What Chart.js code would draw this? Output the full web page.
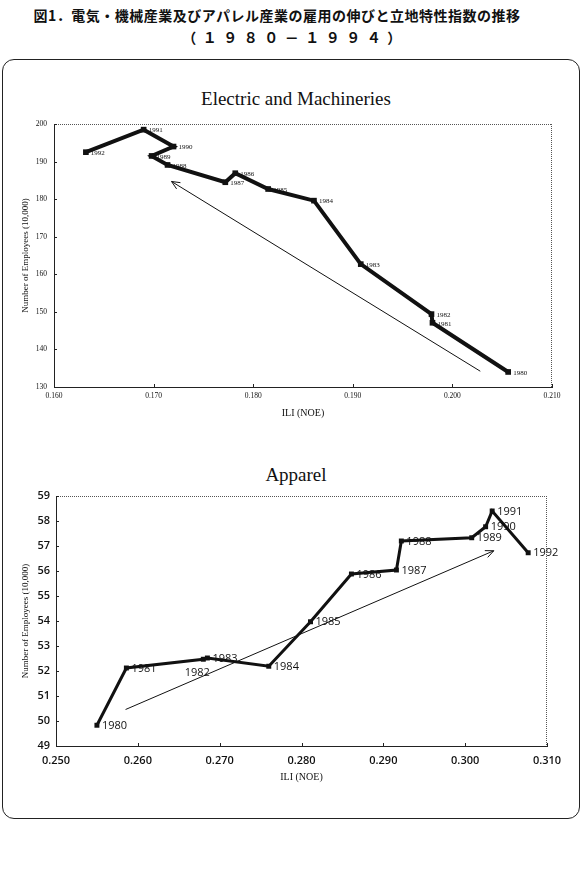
<!DOCTYPE html>
<html><head><meta charset="utf-8">
<script src="https://cdn.jsdelivr.net/npm/chart.js@4.4.1/dist/chart.umd.min.js"></script>
<style>
body{margin:0;width:585px;height:875px;background:#fff;position:relative;overflow:hidden}
.t{position:absolute;left:0;text-align:center;font-family:"Noto Sans CJK JP";font-weight:700;color:#111;font-size:14px;white-space:nowrap}
#frame{position:absolute;left:2px;top:59px;width:578px;height:760px;border:1.5px solid #222;border-radius:12px;box-sizing:border-box}
canvas{position:absolute;left:0}
.ct{position:absolute;left:0;width:592px;text-align:center;font-family:"Liberation Serif";color:#111;font-size:19px;line-height:22px}
</style></head>
<body>
<div class="t" style="top:5px;width:554px;letter-spacing:0.5px">図1．電気・機械産業及びアパレル産業の雇用の伸びと立地特性指数の推移</div>
<div class="t" style="top:27px;width:590px;letter-spacing:6.5px;">（１９８０－１９９４）</div>
<div id="frame"></div>
<div class="ct" style="top:88px">Electric and Machineries</div>
<div class="ct" style="top:464px">Apparel</div>
<canvas id="c1" width="585" height="360" style="top:60px;width:585px;height:360px"></canvas>
<canvas id="c2" width="585" height="380" style="top:420px;width:585px;height:380px"></canvas>
<script>
// ---- Data: Electric and Machineries ----
const years = [1980,1981,1982,1983,1984,1985,1986,1987,1988,1989,1990,1991,1992];
const elecILI = [0.2056,0.1980,0.1979,0.1908,0.1861,0.1815,0.1782,0.1772,0.1714,0.1698,0.1720,0.1690,0.1632];
const elecEmp = [134.0,147.1,149.4,162.7,179.6,182.7,186.9,184.5,189.1,191.5,194.0,198.5,192.5];
const elecArrowX = [0.2028,0.1718];
const elecArrowY = [134.2,184.7];
const elecXTicks = [0.160,0.170,0.180,0.190,0.200,0.210];
const elecYTicks = [130,140,150,160,170,180,190,200];

// ---- Data: Apparel ----
const appILI = [0.2550,0.2586,0.2680,0.2685,0.2760,0.2811,0.2861,0.2916,0.2922,0.3008,0.3025,0.3033,0.3077];
const appEmp = [49.83,52.12,52.47,52.52,52.19,53.97,55.88,56.04,57.20,57.33,57.77,58.40,56.73];
const appArrowX = [0.2585,0.3035];
const appArrowY = [50.46,56.81];
const appXTicks = [0.250,0.260,0.270,0.280,0.290,0.300,0.310];
const appYTicks = [49,50,51,52,53,54,55,56,57,58,59];

const xTitle = 'ILI (NOE)';
const yTitle = 'Number of Employees (10,000)';

const pts = (xs, ys) => xs.map((x,i)=>({x:x,y:ys[i]}));

const labelPlugin = {
  id:'yearLabels',
  afterDatasetsDraw(chart){
    const ctx = chart.ctx;
    chart.data.datasets.forEach((ds,i)=>{
      if(!ds.yearLabels) return;
      const meta = chart.getDatasetMeta(i);
      ctx.save();
      ctx.font = ds.labelFont; ctx.fillStyle = '#111'; ctx.textBaseline = 'middle';
      meta.data.forEach((pt,j)=>{
        const y = ds.yearLabels[j];
        if(ds.belowLeft && ds.belowLeft.indexOf(y) >= 0){
          ctx.textAlign='center'; ctx.fillText(String(y), pt.x-6, pt.y+14);
        } else {
          ctx.textAlign='left'; ctx.fillText(String(y), pt.x+ds.labelDx, pt.y+ds.labelDy);
        }
      });
      ctx.restore();
    });
  }
};

const arrowPlugin = {
  id:'arrowHead',
  afterDatasetsDraw(chart){
    const ctx = chart.ctx;
    chart.data.datasets.forEach((ds,i)=>{
      if(!ds.isArrow) return;
      const d = chart.getDatasetMeta(i).data;
      const a = d[d.length-2], b = d[d.length-1];
      const ang = Math.atan2(b.y-a.y, b.x-a.x);
      const L = 9, w = 0.42;
      ctx.save(); ctx.strokeStyle='#111'; ctx.lineWidth=1;
      ctx.beginPath();
      ctx.moveTo(b.x - L*Math.cos(ang-w), b.y - L*Math.sin(ang-w));
      ctx.lineTo(b.x, b.y);
      ctx.lineTo(b.x - L*Math.cos(ang+w), b.y - L*Math.sin(ang+w));
      ctx.stroke(); ctx.restore();
    });
  }
};

const framePlugin = {
  id:'dottedFrame',
  beforeDatasetsDraw(chart){
    const {left,right,top,bottom} = chart.chartArea;
    const ctx = chart.ctx;
    ctx.save();
    ctx.strokeStyle='#555'; ctx.lineWidth=1; ctx.setLineDash([1,1]);
    ctx.beginPath();
    ctx.moveTo(left, top+0.5); ctx.lineTo(right, top+0.5);
    ctx.moveTo(right-0.5, top); ctx.lineTo(right-0.5, bottom);
    ctx.stroke();
    ctx.setLineDash([]);
    ctx.strokeStyle='#222';
    const xs = chart.scales.x;
    ctx.beginPath();
    xs.ticks.forEach(t=>{ const px = Math.round(xs.getPixelForValue(t.value))+0.5; ctx.moveTo(px,bottom); ctx.lineTo(px,bottom-3); });
    const ys = chart.scales.y;
    ys.ticks.forEach(t=>{ const py = Math.round(ys.getPixelForValue(t.value))+0.5; ctx.moveTo(left,py); ctx.lineTo(left+3,py); });
    ctx.stroke();
    ctx.restore();
  }
};

function makeChart(id, cfg){
  return new Chart(document.getElementById(id), {
    type:'scatter',
    data:{datasets:[
      {data:pts(cfg.arrowX,cfg.arrowY), isArrow:true, showLine:true, borderColor:'#111', borderWidth:1, pointRadius:0, order:2},
      {data:pts(cfg.xs,cfg.ys), showLine:true, borderColor:'#111', backgroundColor:'#111', borderWidth:cfg.lw,
       pointStyle:'rect', pointRadius:cfg.pr, pointBorderWidth:0, borderJoinStyle:'miter',
       yearLabels:years, labelFont:cfg.labelFont, labelDx:cfg.labelDx, labelDy:cfg.labelDy, belowLeft:cfg.belowLeft, order:1}
    ]},
    options:{
      responsive:false, animation:false,
      layout:{padding:{left:0, right:cfg.padRight, top:cfg.padTop, bottom:0}},
      plugins:{legend:{display:false}, tooltip:{enabled:false}, title:{display:false}},
      scales:{
        x:{type:'linear', min:cfg.xTicks[0], max:cfg.xTicks[cfg.xTicks.length-1],
           afterBuildTicks:s=>{ s.ticks = cfg.xTicks.map(v=>({value:v})); },
           afterFit:s=>{ s.height = cfg.xh; },
           grid:{display:false, drawTicks:false}, border:{display:true,color:'#222',width:1},
           ticks:{autoSkip:false, maxRotation:0, padding:cfg.xtp, color:'#111', font:cfg.tickFont, callback:v=>v.toFixed(3)},
           title:{display:true, text:xTitle, color:'#111', font:{family:'Liberation Serif', size:10}, padding:{top:0,bottom:cfg.xtb}}},
        y:{type:'linear', min:cfg.yTicks[0], max:cfg.yTicks[cfg.yTicks.length-1],
           afterBuildTicks:s=>{ s.ticks = cfg.yTicks.map(v=>({value:v})); },
           afterFit:s=>{ s.width = cfg.yw; },
           grid:{display:false, drawTicks:false}, border:{display:true,color:'#222',width:1},
           ticks:{autoSkip:false, padding:cfg.ytp, color:'#111', font:cfg.tickFont},
           title:{display:true, text:yTitle, color:'#111', font:{family:'Liberation Serif', size:9}, padding:{top:20,bottom:0}}}
      }
    },
    plugins:[framePlugin, labelPlugin, arrowPlugin]
  });
}

makeChart('c1', {xs:elecILI, ys:elecEmp, arrowX:elecArrowX, arrowY:elecArrowY, xTicks:elecXTicks, yTicks:elecYTicks,
  lw:4, pr:4, labelFont:'7px "Liberation Serif"', labelDx:5, labelDy:1, belowLeft:[],
  padRight:33, padTop:64, xh:33, yw:54, xtp:5, xtb:1, ytp:7, tickFont:{family:'Liberation Serif', size:7.5}});

makeChart('c2', {xs:appILI, ys:appEmp, arrowX:appArrowX, arrowY:appArrowY, xTicks:appXTicks, yTicks:appYTicks,
  lw:3, pr:3.5, labelFont:'11px "Open Sans"', labelDx:5, labelDy:0.5, belowLeft:[1982],
  padRight:38, padTop:76, xh:54, yw:56, xtp:8, xtb:17, ytp:6, tickFont:{family:'Open Sans', size:11, weight:'600'}});
</script>
</body></html>
